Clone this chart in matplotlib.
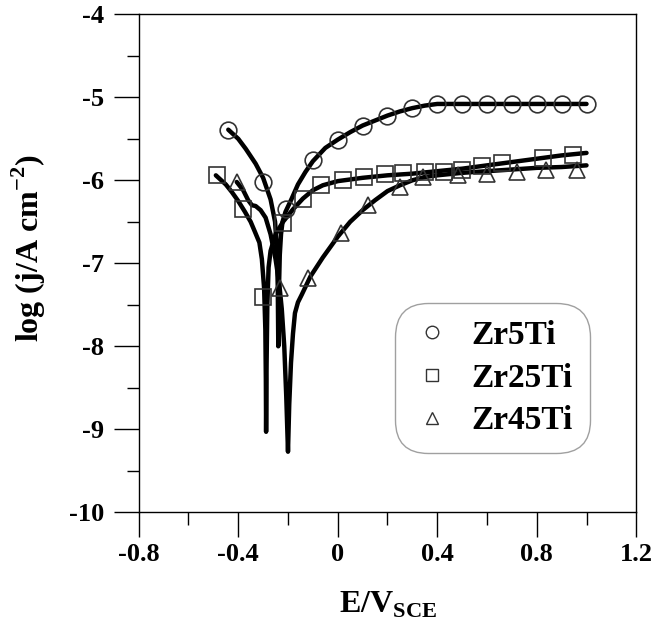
import matplotlib
matplotlib.use("Agg")
import matplotlib.pyplot as plt
from matplotlib.lines import Line2D

# ---------------- data ----------------
zr5_mark_E = [-0.44, -0.30, -0.21, -0.10, 0.0, 0.1, 0.2, 0.3, 0.4, 0.5, 0.6, 0.7, 0.8, 0.9, 1.0]
zr5_mark_j = [-5.39, -6.02, -6.34, -5.76, -5.51, -5.34, -5.22, -5.13, -5.08, -5.08, -5.08, -5.08, -5.08, -5.08, -5.08]

zr5_line_E = [-0.44, -0.40, -0.37, -0.33, -0.30, -0.27, -0.252, -0.245, -0.241, -0.239, -0.237,
              -0.233, -0.228, -0.222, -0.21, -0.185, -0.16, -0.13, -0.10, -0.05, 0.0, 0.05, 0.10,
              0.15, 0.20, 0.25, 0.30, 0.35, 0.40, 0.50, 0.60, 0.70, 0.80, 0.90, 1.00]
zr5_line_j = [-5.39, -5.50, -5.62, -5.80, -5.97, -6.23, -6.50, -6.80, -7.30, -8.00, -7.40,
              -6.90, -6.65, -6.50, -6.38, -6.22, -6.05, -5.90, -5.77, -5.61, -5.51, -5.42, -5.34,
              -5.28, -5.22, -5.17, -5.13, -5.10, -5.08, -5.08, -5.08, -5.08, -5.08, -5.08, -5.08]

zr25_mark_E = [-0.486, -0.38, -0.299, -0.219, -0.138, -0.067, 0.023, 0.106, 0.191, 0.264,
               0.351, 0.427, 0.498, 0.578, 0.662, 0.826, 0.947]
zr25_mark_j = [-5.94, -6.34, -7.40, -6.52, -6.22, -6.06, -6.00, -5.96, -5.93, -5.91,
               -5.90, -5.90, -5.88, -5.83, -5.79, -5.73, -5.69]

zr25_line_E = [-0.49, -0.45, -0.426, -0.40, -0.373, -0.35, -0.333, -0.315, -0.305, -0.296,
               -0.291, -0.289, -0.288, -0.286, -0.283, -0.278, -0.27, -0.25, -0.22, -0.18,
               -0.14, -0.10, -0.06, 0.0, 0.1, 0.2, 0.3, 0.4, 0.5, 0.6, 0.7, 0.8, 0.9, 1.0]
zr25_line_j = [-5.94, -6.05, -6.14, -6.25, -6.38, -6.50, -6.62, -6.75, -6.95, -7.30,
               -7.80, -8.40, -9.03, -8.20, -7.50, -7.05, -6.85, -6.65, -6.50, -6.35,
               -6.22, -6.12, -6.06, -6.01, -5.97, -5.94, -5.92, -5.89, -5.86, -5.82, -5.78, -5.74, -5.70, -5.67]

zr45_mark_E = [-0.406, -0.232, -0.118, 0.012, 0.123, 0.25, 0.344, 0.485, 0.599, 0.719, 0.836, 0.96]
zr45_mark_j = [-6.02, -7.30, -7.18, -6.64, -6.30, -6.08, -5.96, -5.94, -5.92, -5.90, -5.88, -5.87]

zr45_line_E = [-0.406, -0.38, -0.36, -0.345, -0.33, -0.31, -0.29, -0.27, -0.25, -0.235, -0.225,
               -0.215, -0.207, -0.200, -0.195, -0.188, -0.18, -0.172, -0.16, -0.145, -0.11,
               -0.06, 0.0, 0.05, 0.1, 0.15, 0.2, 0.25, 0.3, 0.35, 0.4, 0.5, 0.6, 0.7, 0.8, 0.9, 1.0]
zr45_line_j = [-6.02, -6.12, -6.24, -6.30, -6.31, -6.36, -6.45, -6.65, -6.95, -7.25, -7.55,
               -8.00, -8.60, -9.27, -8.70, -8.20, -7.85, -7.60, -7.47, -7.38, -7.16,
               -6.93, -6.68, -6.50, -6.36, -6.24, -6.13, -6.06, -6.00, -5.96, -5.94, -5.91, -5.89, -5.87, -5.85, -5.84, -5.82]

labels = ["Zr5Ti", "Zr25Ti", "Zr45Ti"]
x_ticks = [-0.8, -0.4, 0, 0.4, 0.8, 1.2]
x_ticklabels = ["-0.8", "-0.4", "0", "0.4", "0.8", "1.2"]
y_ticks = [-10, -9, -8, -7, -6, -5, -4]
y_ticklabels = ["-10", "-9", "-8", "-7", "-6", "-5", "-4"]

# ---------------- figure ----------------
plt.rcParams['font.family'] = ['Liberation Serif', 'DejaVu Serif']
plt.rcParams['font.weight'] = 'bold'
plt.rcParams['mathtext.fontset'] = 'custom'
plt.rcParams['mathtext.rm'] = 'Liberation Serif:bold'
plt.rcParams['mathtext.bf'] = 'Liberation Serif:bold'

fig = plt.figure(figsize=(6.55, 6.36), dpi=100)
ax = fig.add_axes([0.2118, 0.1945, 0.9714 - 0.2118, 0.9775 - 0.1945])

lw = 3.2
mec = '#333333'
for E, j in [(zr5_line_E, zr5_line_j), (zr25_line_E, zr25_line_j), (zr45_line_E, zr45_line_j)]:
    ax.plot(E, j, color='black', lw=lw, solid_joinstyle='round', solid_capstyle='round', zorder=2)

ax.plot(zr5_mark_E, zr5_mark_j, ls='none', marker='o', ms=12, mfc='none', mec=mec, mew=1.2, zorder=3)
ax.plot(zr25_mark_E, zr25_mark_j, ls='none', marker='s', ms=11.5, mfc='none', mec=mec, mew=1.2, zorder=3)
ax.plot(zr45_mark_E, zr45_mark_j, ls='none', marker='^', ms=11, mfc='none', mec=mec, mew=1.2, zorder=3)

ax.set_xlim(-0.8, 1.2)
ax.set_ylim(-10, -4)
ax.set_xticks(x_ticks)
ax.set_xticklabels(x_ticklabels)
ax.set_yticks(y_ticks)
ax.set_yticklabels(y_ticklabels)
ax.set_xticks([-0.6, -0.2, 0.2, 0.6, 1.0], minor=True)
ax.set_yticks([-9.5, -8.5, -7.5, -6.5, -5.5, -4.5], minor=True)

for s in ax.spines.values():
    s.set_linewidth(1.0)
    s.set_color('black')
ax.tick_params(which='major', direction='out', length=18, width=1.0, labelsize=19, pad=7)
ax.tick_params(which='minor', direction='out', length=9, width=1.0)
ax.tick_params(axis='x', which='major', pad=4)

ax.set_xlabel(r'E/V$_{\mathbf{SCE}}$', fontsize=23, fontweight='bold')
ax.xaxis.set_label_coords(0.5, -0.155)
ax.set_ylabel(r'log (j/A cm$^{\mathbf{-2}}$)', fontsize=23, fontweight='bold')
ax.yaxis.set_label_coords(-0.182, 0.53)

handles = [
    Line2D([], [], ls='none', marker='o', ms=9, mfc='none', mec=mec, mew=1.0),
    Line2D([], [], ls='none', marker='s', ms=9, mfc='none', mec=mec, mew=1.0),
    Line2D([], [], ls='none', marker='^', ms=9, mfc='none', mec=mec, mew=1.0),
]
leg = ax.legend(handles, labels, loc='lower left', bbox_to_anchor=(0.515, 0.119),
                fontsize=24, frameon=True, fancybox=True, edgecolor='#888888',
                handletextpad=0.6, labelspacing=0.35, borderpad=0.5, handlelength=1.2,
                borderaxespad=0)
leg.get_frame().set_linewidth(1.0)
leg.get_frame().set_boxstyle('round', pad=0, rounding_size=1.0)
for t in leg.get_texts():
    t.set_fontweight('bold')

fig.savefig('out.png', dpi=100)
